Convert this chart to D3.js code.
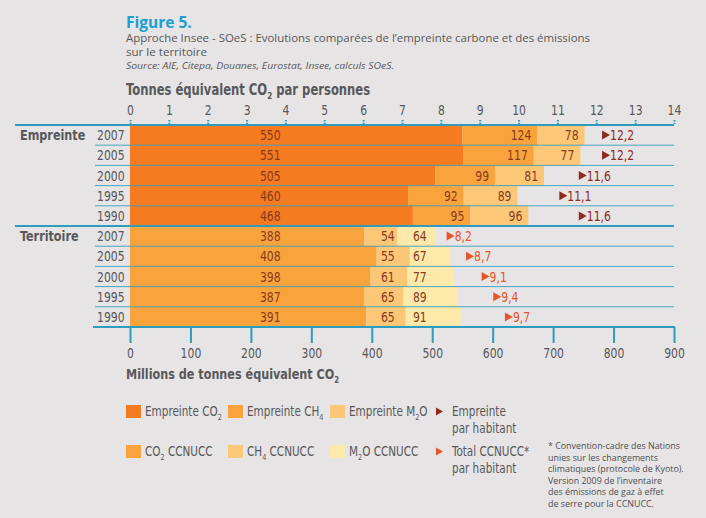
<!DOCTYPE html>
<html>
<head>
<meta charset="utf-8">
<script src="https://cdn.jsdelivr.net/npm/d3@7"></script>
<style>
  body { margin: 0; background: #e6e4e4; }
  svg text { font-family: "DejaVu Sans Condensed", "Liberation Sans Narrow", sans-serif; fill: #58585a; }
</style>
</head>
<body>
<svg id="chart"></svg>
<script>
// Data
const groups = ["Empreinte", "Territoire"];
const years = ["2007", "2005", "2000", "1995", "1990"];
const empreinteCO2 = [550, 551, 505, 460, 468];
const empreinteCH4 = [124, 117, 99, 92, 95];
const empreinteN2O = [78, 77, 81, 89, 96];
const empreinteParHab = [12.2, 12.2, 11.6, 11.1, 11.6];
const territoireCO2 = [388, 408, 398, 387, 391];
const territoireCH4 = [54, 55, 61, 65, 65];
const territoireN2O = [64, 67, 77, 89, 91];
const territoireParHab = [8.2, 8.7, 9.1, 9.4, 9.7];
const topTicks = [0, 1, 2, 3, 4, 5, 6, 7, 8, 9, 10, 11, 12, 13, 14];
const bottomTicks = [0, 100, 200, 300, 400, 500, 600, 700, 800, 900];
const legendRow1 = ["Empreinte CO_2", "Empreinte CH_4", "Empreinte M_2O"];
const legendRow2 = ["CO_2 CCNUCC", "CH_4 CCNUCC", "M_2O CCNUCC"];
const footnote = [
  "* Convention-cadre des Nations",
  "unies sur les changements",
  "climatiques (protocole de Kyoto).",
  "Version 2009 de l\u2019inventaire",
  "des émissions de gaz à effet",
  "de serre pour la CCNUCC."
];

const W = 706, H = 518;
const teal = "#2d9cbf";
const labelColor = "#8a3a1c";
const squeeze = 0.86; // narrow the installed font towards the original condensed face
const colors = {
  Empreinte: ["#f47b20", "#f9a33c", "#fcc877"],
  Territoire: ["#f9a33c", "#fcc877", "#fde9a9"]
};
const pcColor = { Empreinte: "#8e2a1e", Territoire: "#e5552b" };

const rows = [];
groups.forEach((g) => {
  const co2 = g === "Empreinte" ? empreinteCO2 : territoireCO2;
  const ch4 = g === "Empreinte" ? empreinteCH4 : territoireCH4;
  const n2o = g === "Empreinte" ? empreinteN2O : territoireN2O;
  const pc = g === "Empreinte" ? empreinteParHab : territoireParHab;
  years.forEach((yr, i) => {
    rows.push({ key: g + yr, group: g, year: yr, first: i === 0, last: i === years.length - 1,
      values: [co2[i], ch4[i], n2o[i]], pc: pc[i] });
  });
});

const svg = d3.select("#chart").attr("width", W).attr("height", H);

// condensed text anchored at (x, y)
function ctext(parent, x, y, size) {
  return parent.append("text")
    .attr("transform", `translate(${x},${y}) scale(${squeeze},1)`)
    .style("font-size", size + "px");
}

// subscript helper: "CO_2" -> CO + subscript 2
function addText(sel, str, size) {
  let down = false;
  const shift = size * 0.26;
  str.split(/_(\d)/).forEach((part, i) => {
    if (!part) return;
    const t = sel.append("tspan");
    if (i % 2 === 1) {
      t.attr("dy", shift).style("font-size", (size * 0.62) + "px");
      down = true;
    } else if (down) {
      t.attr("dy", -shift);
      down = false;
    }
    t.text(part);
  });
  return sel;
}

// Titles
svg.append("text").attr("x", 126).attr("y", 28)
  .style("font-family", "'Open Sans', sans-serif").style("font-weight", "bold")
  .style("font-size", "15.5px").style("fill", "#1c9fd3").text("Figure 5.");
svg.append("text").attr("x", 126).attr("y", 42)
  .style("font-family", "'Open Sans', sans-serif").style("font-size", "10.5px")
  .attr("textLength", 464).attr("lengthAdjust", "spacingAndGlyphs")
  .text("Approche Insee - SOeS : Evolutions comparées de l\u2019empreinte carbone et des émissions");
svg.append("text").attr("x", 126).attr("y", 56)
  .style("font-family", "'Open Sans', sans-serif").style("font-size", "10.5px")
  .attr("textLength", 81).attr("lengthAdjust", "spacingAndGlyphs")
  .text("sur le territoire");
svg.append("text").attr("x", 126).attr("y", 69)
  .style("font-family", "'Open Sans', sans-serif").style("font-size", "9.5px")
  .style("font-style", "italic")
  .attr("textLength", 268).attr("lengthAdjust", "spacingAndGlyphs")
  .text("Source: AIE, Citepa, Douanes, Eurostat, Insee, calculs SOeS.");

addText(ctext(svg, 126, 95, 15).style("font-weight", "bold"),
  "Tonnes équivalent CO_2 par personnes", 15);

// Scales
const xBot = d3.scaleLinear().domain([0, 900]).range([130, 674]);
const xTop = d3.scaleLinear().domain([0, 14]).range([130, 674]);
const y = d3.scaleBand().domain(rows.map((d) => d.key)).range([125, 327]);
const bw = y.bandwidth();

// Bars
const rowG = svg.append("g").selectAll("g").data(rows).join("g")
  .attr("transform", (d) => `translate(0,${y(d.key)})`);

rowG.each(function (d) {
  const g = d3.select(this);
  let cum = 0;
  d.values.forEach((v, j) => {
    g.append("rect")
      .attr("x", xBot(cum))
      .attr("y", 0)
      .attr("width", xBot(cum + v) - xBot(cum))
      .attr("height", bw)
      .attr("fill", colors[d.group][j]);
    cum += v;
  });

  // value labels
  const lab = (x, anchor, text) => ctext(g, x, bw / 2, 14)
    .attr("dy", "0.36em").attr("text-anchor", anchor)
    .style("fill", labelColor).text(text);

  lab(xBot(232), "middle", d.values[0]);
  if (d.group === "Empreinte") {
    lab(xBot(d.values[0] + d.values[1]) - 6, "end", d.values[1]);
    lab(xBot(d.values[0] + d.values[1] + d.values[2]) - 6, "end", d.values[2]);
  } else {
    lab(xBot(438), "end", d.values[1]);
    lab(xBot(468), "start", d.values[2]);
  }

  // per-capita marker on the top scale
  const px = xTop(d.pc) - 2;
  g.append("path")
    .attr("d", `M${px},${bw / 2 - 4.5}L${px + 8},${bw / 2}L${px},${bw / 2 + 4.5}Z`)
    .attr("fill", pcColor[d.group]);
  ctext(g, px + 8, bw / 2, 14).attr("dy", "0.36em")
    .style("fill", pcColor[d.group])
    .text(d3.format(".1f")(d.pc).replace(".", ","));

  // year label
  ctext(g, 97, bw / 2, 14).attr("dy", "0.36em").text(d.year);
  if (d.first) {
    ctext(g, 20, bw / 2, 14.5).attr("dy", "0.36em")
      .style("font-weight", "bold").text(d.group);
  }
});

// Row separators
rows.forEach((d) => {
  if (d.last) return;
  svg.append("line")
    .attr("x1", 95).attr("x2", 674)
    .attr("y1", y(d.key) + bw).attr("y2", y(d.key) + bw)
    .attr("stroke", teal).attr("stroke-width", 1).attr("opacity", 0.85);
});
// Group separator
const gy = y("Territoire" + years[0]);
svg.append("line").attr("x1", 15).attr("x2", 674).attr("y1", gy).attr("y2", gy)
  .attr("stroke", teal).attr("stroke-width", 2);

// Top axis
const topAxis = svg.append("g").attr("transform", "translate(0,124)")
  .call(d3.axisTop(xTop).tickValues(topTicks).tickSize(5).tickPadding(4));
topAxis.select(".domain").remove();
topAxis.selectAll(".tick line").attr("stroke", teal).attr("stroke-width", 2)
  .attr("stroke-dasharray", "1.3,1.3");
topAxis.selectAll(".tick text").style("font-size", "14px").style("fill", "#58585a")
  .style("font-family", "'DejaVu Sans Condensed', sans-serif")
  .attr("transform", `scale(${squeeze},1)`);
svg.append("line").attr("x1", 15).attr("x2", 674).attr("y1", 125).attr("y2", 125)
  .attr("stroke", teal).attr("stroke-width", 2);

// Bottom axis
const botAxis = svg.append("g").attr("transform", "translate(0,327)")
  .call(d3.axisBottom(xBot).tickValues(bottomTicks).tickSize(16).tickPadding(5));
botAxis.select(".domain").remove();
botAxis.selectAll(".tick line").attr("stroke", teal).attr("stroke-width", 2);
botAxis.selectAll(".tick text").style("font-size", "14px").style("fill", "#58585a")
  .style("font-family", "'DejaVu Sans Condensed', sans-serif")
  .attr("transform", `scale(${squeeze},1)`);
svg.append("line").attr("x1", 93).attr("x2", 675).attr("y1", 327).attr("y2", 327)
  .attr("stroke", teal).attr("stroke-width", 2);

addText(ctext(svg, 126, 379, 14.5).style("font-weight", "bold"),
  "Millions de tonnes équivalent CO_2", 14.5);

// Legend
const legendX = [126, 228, 330];
[legendRow1, legendRow2].forEach((items, r) => {
  const top = r === 0 ? 405 : 445;
  const grp = r === 0 ? "Empreinte" : "Territoire";
  items.forEach((label, j) => {
    svg.append("rect").attr("x", legendX[j]).attr("y", top)
      .attr("width", 15).attr("height", 13).attr("fill", colors[grp][j]);
    addText(ctext(svg, legendX[j] + 19, top + 11, 13.5), label, 13.5);
  });
  svg.append("path")
    .attr("d", `M436,${top + 2.5}L443,${top + 6.5}L436,${top + 10.5}Z`)
    .attr("fill", pcColor[grp]);
  ctext(svg, 452, top + 11, 13.5).text(r === 0 ? "Empreinte" : "Total CCNUCC*");
  ctext(svg, 452, top + 28, 13.5).text("par habitant");
});

// Footnote
svg.append("g").selectAll("text").data(footnote).join("text")
  .attr("x", 548).attr("y", (d, i) => 449 + i * 11.6)
  .style("font-family", "'Open Sans', sans-serif").style("font-size", "8.9px")
  .style("fill", "#4f4f51")
  .text((d) => d);
</script>
</body>
</html>
